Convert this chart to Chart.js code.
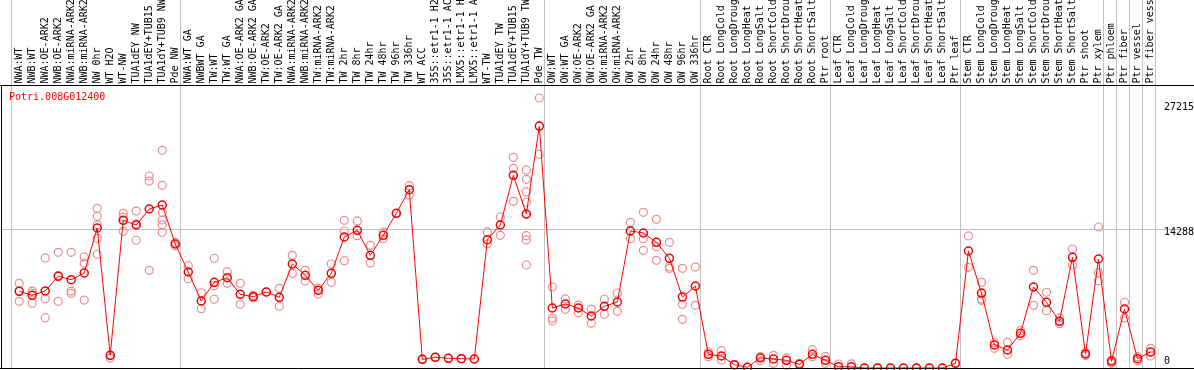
<!DOCTYPE html>
<html><head><meta charset="utf-8">
<script src="https://cdn.jsdelivr.net/npm/chart.js@4"></script>
<style>html,body{margin:0;padding:0;background:#fff;overflow:hidden}</style>
</head><body>
<canvas id="c" width="1194" height="370"></canvas>
<script>
const title = "Potri.008G012400";
const categories = [
"NWA:WT","NWB:WT","NWA:OE-ARK2","NWB:OE-ARK2","NWA:miRNA-ARK2","NWB:miRNA-ARK2","NW 0hr","WT H2O","WT-NW","TUA1dEY NW","TUA1dEY+TUB15","TUA1dY+TUB9 NW","Pde NW",
"NWA:WT GA","NWBWT GA","TW:WT","TW:WT GA","NWA:OE-ARK2 GA","NWB:OE-ARK2 GA","TW:OE-ARK2","TW:OE-ARK2 GA","NWA:miRNA-ARK2","NWB:miRNA-ARK2","TW:miRNA-ARK2","TW:miRNA-ARK2","TW 2hr","TW 8hr","TW 24hr","TW 48hr","TW 96hr","TW 336hr","WT ACC","35S::etr1-1 H2","35S::etr1-1 AC","LMX5::etr1-1 H","LMX5::etr1-1 A","WT-TW","TUA1dEY TW","TUA1dEY+TUB15","TUA1dY+TUB9 TW","Pde TW",
"OW:WT","OW:WT GA","OW:OE-ARK2","OW:OE-ARK2 GA","OW:miRNA-ARK2","OW:miRNA-ARK2","OW 2hr","OW 8hr","OW 24hr","OW 48hr","OW 96hr","OW 336hr",
"Root CTR","Root LongCold","Root LongDroug","Root LongHeat","Root LongSalt","Root ShortCold","Root ShortDrou","Root ShortHeat","Root ShortSalt","Ptr root",
"Leaf CTR","Leaf LongCold","Leaf LongDroug","Leaf LongHeat","Leaf LongSalt","Leaf ShortCold","Leaf ShortDrou","Leaf ShortHeat","Leaf ShortSalt","Ptr leaf",
"Stem CTR","Stem LongCold","Stem LongDroug","Stem LongHeat","Stem LongSalt","Stem ShortCold","Stem ShortDrou","Stem ShortHeat","Stem ShortSalt","Ptr shoot","Ptr xylem",
"Ptr phloem","Ptr fiber","Ptr vessel","Ptr fiber vess"
];
const groupSizes = [13, 28, 12, 10, 10, 11, 1, 1, 1, 1];
const means = [
7877, 7466, 7908, 9417, 9070, 9757, 14378, 1304, 15168, 14686, 16330, 16740, 12735,
9860, 6880, 8800, 9275, 7570, 7320, 7805, 7260, 10680, 9520, 7980, 9723, 13454, 14140, 11570, 13626, 15888, 18310, 890, 1100, 996, 955, 924, 13180, 14686, 19790, 15815, 24850,
6162, 6573, 6162, 5340, 6336, 6778, 14070, 13865, 12910, 11265, 7290, 8420,
1405, 1232, 340, 72, 1027, 924, 790, 380, 1405, 790,
130, 120, 0, 0, 0, 0, 0, 0, 0, 480,
12016, 7700, 2362, 1850, 3560, 8320, 6747, 4793, 11370, 1438, 11194,
688, 6060, 955, 1643
];
const replicates = [
[8700, 6850, 7900], [7900, 6650, 7700], [11300, 7120, 5170], [11880, 6850, 9500], [11880, 7900, 7670], [11400, 10750, 6980],
[16400, 15580, 13320, 11680, 14700], [1030, 1300], [15890, 14040, 15500], [16120, 13120, 14800], [19720, 19200, 10030],
[22360, 18760, 15960, 15200, 14690, 13930], [12530, 12900],
[10510, 9170], [7730, 6090], [11270, 8450, 7060], [9890, 8700], [8700, 6540], [7450, 7200], [7800], [8180, 6340],
[11570, 9720], [10030, 8940], [8200, 7600], [10680, 8800], [15170, 14070, 11020], [15100, 13590], [12600, 10780],
[13950, 13280], [15890], [18720, 17740], [890], [1100], [1000], [955], [924], [13970, 12740], [15510, 13630],
[21640, 20510, 17120], [20340, 19380, 18080, 17020, 15780, 13590, 13150, 10580], [27730, 21950],
[8320, 5100, 4830], [7090, 6030], [6450, 5680], [6030, 4590], [7060, 5520], [7700, 5820], [14960, 13280],
[15990, 13280, 12090], [15270, 12460, 11060], [12910, 10400, 10230], [10240, 6540, 5000], [10370, 6440],
[1650, 1160], [1780, 820], [280], [72], [1160, 750], [1300, 480], [1030, 280], [480], [1880, 1160], [1160, 480],
[410], [420], [0], [0], [0], [0], [0], [0], [0], [480],
[13560, 10340], [8800, 7090, 6950], [2600, 2020], [2640, 1400], [3830, 3300], [10030, 6440], [7780, 5890],
[5140, 4550], [12220, 10580], [1600, 1280], [14480, 9790, 8970],
[820, 480], [6750, 5140], [1160, 750], [2020, 1230]
];
const yTicks = [0, 14288, 27215];
const yMax = 29064;

const FONT = '"DejaVu Sans Mono", monospace';
const meanPts = means.map((v, i) => ({x: i, y: v}));
const repPts = [];
replicates.forEach((arr, i) => arr.forEach(v => repPts.push({x: i, y: v})));

const bgPlugin = {
  id: 'bg',
  beforeDatasetsDraw(chart) {
    const ctx = chart.ctx, xs = chart.scales.x, ys = chart.scales.y, W = chart.width;
    ctx.save();
    ctx.strokeStyle = '#c0c0c0';
    ctx.lineWidth = 1;
    let start = 0;
    const bounds = [];
    groupSizes.forEach(n => { bounds.push(start); start += n; });
    bounds.push(start);
    bounds.forEach(b => {
      const x = Math.round(xs.getPixelForValue(b - 0.64)) + 0.5;
      ctx.beginPath(); ctx.moveTo(x, 0); ctx.lineTo(x, 369); ctx.stroke();
    });
    const yg = Math.round(ys.getPixelForValue(yTicks[1])) + 0.5;
    ctx.beginPath(); ctx.moveTo(1, yg); ctx.lineTo(W, yg); ctx.stroke();
    ctx.restore();
  },
  afterDraw(chart) {
    const ctx = chart.ctx, xs = chart.scales.x, ys = chart.scales.y, ca = chart.chartArea, W = chart.width;
    ctx.save();
    ctx.strokeStyle = '#000';
    ctx.lineWidth = 1;
    ctx.beginPath(); ctx.moveTo(0, 85.5); ctx.lineTo(W, 85.5); ctx.stroke();
    ctx.beginPath(); ctx.moveTo(0, 368.5); ctx.lineTo(W, 368.5); ctx.stroke();
    ctx.beginPath(); ctx.moveTo(1.5, 85); ctx.lineTo(1.5, 369); ctx.stroke();
    ctx.font = '10px ' + FONT;
    ctx.fillStyle = '#000';
    ctx.textAlign = 'left';
    ctx.textBaseline = 'alphabetic';
    categories.forEach((lab, i) => {
      const x = xs.getPixelForValue(i);
      ctx.save();
      ctx.translate(Math.round(x + 2.5), 83.5);
      ctx.rotate(-Math.PI / 2);
      ctx.fillText(lab, 0, 0);
      ctx.restore();
    });
    ctx.fillStyle = '#f00';
    ctx.fillText(title, 9, 100);
    ctx.fillStyle = '#000';
    ctx.textBaseline = 'top';
    yTicks.forEach(v => {
      let y = ys.getPixelForValue(v);
      if (y > ca.bottom - 11) y = ca.bottom - 11;
      ctx.fillText(String(v), ca.right + 4, y - 1);
    });
    ctx.restore();
  }
};

new Chart(document.getElementById('c'), {
  type: 'line',
  data: {
    datasets: [
      {
        label: 'mean', data: meanPts, borderColor: '#ff0000', borderWidth: 1,
        pointRadius: 4, pointBorderWidth: 1.5, pointBorderColor: '#ee0000',
        pointBackgroundColor: 'rgba(0,0,0,0)', fill: false, tension: 0, clip: false
      },
      {
        label: 'replicates', data: repPts, showLine: false,
        pointRadius: 4, pointBorderWidth: 1.2, pointBorderColor: 'rgb(236,140,140)',
        pointBackgroundColor: 'rgba(0,0,0,0)', clip: false
      }
    ]
  },
  options: {
    responsive: false, animation: false, devicePixelRatio: 1,
    layout: {autoPadding: false, padding: {left: 1, right: 34, top: 0, bottom: 2}},
    plugins: {legend: {display: false}, tooltip: {enabled: false}, title: {display: false}},
    scales: {
      x: {
        type: 'linear', position: 'top', min: -1.4, max: 87.73,
        afterBuildTicks: s => { s.ticks = categories.map((_, i) => ({value: i})); },
        afterFit: s => { s.height = 85; s.paddingLeft = 0; s.paddingRight = 0; },
        grid: {display: false, drawTicks: false},
        border: {display: false},
        ticks: {display: false}
      },
      y: {
        display: false, min: 0, max: yMax
      }
    }
  },
  plugins: [bgPlugin]
});
</script>
</body></html>
